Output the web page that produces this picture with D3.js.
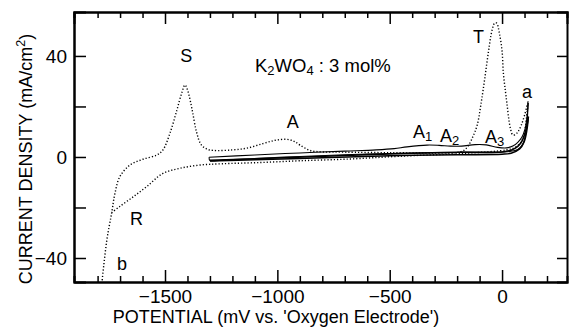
<!DOCTYPE html>
<html>
<head>
<meta charset="utf-8">
<script src="https://cdn.jsdelivr.net/npm/d3@7"></script>
<style>
  body { margin: 0; background: #fff; }
  text { font-family: "Liberation Sans", Arial, sans-serif; fill: #000; }
</style>
</head>
<body>
<div id="chart-container"></div>
<script>
// dotted cycle: anodic sweep from b up through S, A, T to a
const dottedForward = [
  [-1781, -50], [-1759, -33], [-1737, -22], [-1723, -14.5], [-1701, -7.8], [-1656, -3.2],
  [-1598, -0.9], [-1536, 0.8], [-1509, 2.8], [-1478, 9.4], [-1447, 18.6], [-1425, 25.5],
  [-1411, 28.5], [-1398, 26], [-1380, 19], [-1360, 10], [-1340, 5], [-1315, 3.2], [-1287, 2.6],
  [-1200, 2.8], [-1135, 3.5], [-1064, 5.3], [-1010, 6.6], [-960, 7], [-925, 6.2], [-899, 4.7],
  [-855, 2.6], [-800, 2], [-700, 1.9], [-500, 1.7], [-300, 1.6], [-200, 1.8], [-170, 2.6],
  [-150, 4.5], [-130, 8], [-111, 12.5], [-92, 22], [-76, 31.7], [-60, 42], [-45, 50],
  [-33, 53], [-24, 53], [-12, 49], [0, 42], [6, 33], [15, 26], [22, 21], [30, 15],
  [38, 11], [47, 8.8], [58, 8.8], [71, 10], [85, 12.5], [100, 16.5], [116, 22]
];
// dotted cycle: cathodic sweep from a back to R and b
const dottedReturn = [
  [116, 22], [108, 15], [98, 9], [82, 5.5], [55, 3.7], [20, 2.8], [-156, 1.5], [-454, 0.3],
  [-677, -0.8], [-900, -1.5], [-1077, -2.2], [-1250, -2.7], [-1345, -3.2], [-1434, -4.5],
  [-1509, -6.5], [-1581, -11.7], [-1642, -15.8], [-1700, -19.5], [-1737, -22]
];
// solid thin cycle with A1, A2, A3
const solidForward = [
  [-1304, -0.1], [-1100, 0.8], [-900, 1.6], [-700, 2.3], [-560, 2.8], [-480, 3.3], [-423, 4],
  [-334, 4.7], [-280, 4.6], [-230, 4.3], [-180, 4.3], [-120, 4.9], [-70, 4.8], [-20, 3.8],
  [20, 3.6], [50, 4.4], [70, 5.8], [88, 7.8], [102, 11], [110, 15], [116, 21.4]
];
const solidReturn = [
  [116, 21.4], [112, 14.5], [105, 9], [92, 5], [70, 3], [35, 2.2], [0, 2], [-200, 1.8],
  [-500, 1.4], [-700, 0.9], [-900, 0.2], [-1100, -0.6], [-1250, -1.3], [-1300, -1.4], [-1304, -0.1]
];
// solid thick cycle underneath
const thickForward = [
  [-1300, -1.3], [-1000, -0.4], [-700, 0.6], [-400, 1.5], [-200, 1.9], [0, 2], [40, 2.7],
  [70, 4.2], [90, 6.5], [104, 10], [112, 13], [117, 16]
];
const thickReturn = [
  [117, 16], [110, 10.5], [98, 6], [78, 3.2], [40, 1.5], [0, 1.1], [-200, 0.9], [-500, 0.5],
  [-800, -0.3], [-1100, -1.1], [-1300, -1.6]
];

const xMajorTicks = [-1500, -1000, -500, 0];
const yMajorTicks = [-40, 0, 40];
const pointLabels = [
  { text: 'S', sub: '', x: -1432, y: 37.6 },
  { text: 'A', sub: '', x: -958, y: 11.5 },
  { text: 'A', sub: '1', x: -396, y: 7.5 },
  { text: 'A', sub: '2', x: -276, y: 5.9 },
  { text: 'A', sub: '3', x: -76, y: 5.5 },
  { text: 'T', sub: '', x: -129, y: 45 },
  { text: 'a', sub: '', x: 89, y: 23.4 },
  { text: 'R', sub: '', x: -1656, y: -27 },
  { text: 'b', sub: '', x: -1714, y: -44.8 }
];

const width = 569, height = 331;
const margin = { top: 12, right: 2, bottom: 49, left: 74 };
const plotW = width - margin.left - margin.right;
const plotH = height - margin.top - margin.bottom;

const svg = d3.select('#chart-container')
  .append('svg')
  .attr('width', width)
  .attr('height', height);

const g = svg.append('g')
  .attr('transform', `translate(${margin.left}, ${margin.top})`);

const xScale = d3.scaleLinear().domain([-1905, 289]).range([0, plotW]);
const yScale = d3.scaleLinear().domain([-49.5, 57.4]).range([plotH, 0]);

g.append('clipPath').attr('id', 'clip')
  .append('rect').attr('width', plotW).attr('height', plotH);

const line = d3.line()
  .x((d) => xScale(d[0]))
  .y((d) => yScale(d[1]))
  .curve(d3.curveCatmullRom.alpha(0.5));

const curves = g.append('g').attr('clip-path', 'url(#clip)');

[dottedForward, dottedReturn].forEach((data) => {
  curves.append('path')
    .datum(data)
    .attr('d', line)
    .attr('fill', 'none')
    .attr('stroke', '#000')
    .attr('stroke-width', 1.4)
    .attr('stroke-dasharray', '1.2,2');
});

[thickForward, thickReturn].forEach((data) => {
  curves.append('path')
    .datum(data)
    .attr('d', line)
    .attr('fill', 'none')
    .attr('stroke', '#000')
    .attr('stroke-width', 1.6);
});

[solidForward, solidReturn].forEach((data) => {
  curves.append('path')
    .datum(data)
    .attr('d', line)
    .attr('fill', 'none')
    .attr('stroke', '#000')
    .attr('stroke-width', 1.1);
});

// axes, ticks pointing inward on all four sides
const xMinor = d3.range(-1800, 201, 100).filter((v) => !xMajorTicks.includes(v));
const yMinor = [-20, 20];

g.append('g').attr('class', 'axis')
  .attr('transform', `translate(0, ${plotH})`)
  .call(d3.axisBottom(xScale).tickValues(xMinor).tickSize(-6).tickFormat(''));
g.append('g').attr('class', 'axis')
  .attr('transform', `translate(0, ${plotH})`)
  .call(d3.axisBottom(xScale).tickValues(xMajorTicks).tickSizeInner(-12).tickSizeOuter(0)
    .tickPadding(8).tickFormat((d) => d === 0 ? '0' : '\u2212' + Math.abs(d)));

g.append('g').attr('class', 'axis')
  .call(d3.axisTop(xScale).tickValues(xMinor).tickSize(-6).tickFormat(''));
g.append('g').attr('class', 'axis')
  .call(d3.axisTop(xScale).tickValues(xMajorTicks).tickSize(-12).tickFormat(''));

g.append('g').attr('class', 'axis')
  .call(d3.axisLeft(yScale).tickValues(yMinor).tickSize(-12).tickFormat(''));
g.append('g').attr('class', 'axis')
  .call(d3.axisLeft(yScale).tickValues(yMajorTicks).tickSizeInner(-12).tickSizeOuter(0)
    .tickPadding(7).tickFormat((d) => d < 0 ? '\u2212' + Math.abs(d) : d));

g.append('g').attr('class', 'axis')
  .attr('transform', `translate(${plotW}, 0)`)
  .call(d3.axisRight(yScale).tickValues(yMinor.concat(yMajorTicks)).tickSize(-10).tickFormat(''));

d3.selectAll('.axis path').attr('stroke', '#000').attr('stroke-width', 2);
d3.selectAll('.axis line').attr('stroke', '#000').attr('stroke-width', 1.5);
d3.selectAll('.axis text').attr('fill', '#000').attr('font-size', 19)
  .attr('font-family', '"Liberation Sans", Arial, sans-serif');

// point labels
pointLabels.forEach((d) => {
  const t = g.append('text')
    .attr('x', xScale(d.x))
    .attr('y', yScale(d.y))
    .attr('font-size', 18)
    .text(d.text);
  if (d.sub) {
    t.append('tspan').attr('font-size', 13).attr('dy', 3).text(d.sub);
  }
});

const title = g.append('text')
  .attr('x', 181)
  .attr('y', 60)
  .attr('font-size', 18.5);
title.append('tspan').text('K');
title.append('tspan').attr('font-size', 13).attr('dy', 3).text('2');
title.append('tspan').attr('dy', -3).text('WO');
title.append('tspan').attr('font-size', 13).attr('dy', 3).text('4');
title.append('tspan').attr('dy', -3).text(' : 3 mol%');

svg.append('text')
  .attr('x', 276)
  .attr('y', 323)
  .attr('text-anchor', 'middle')
  .attr('font-size', 18)
  .text("POTENTIAL (mV vs. 'Oxygen Electrode')");

const ylab = svg.append('text')
  .attr('transform', 'translate(32, 159) rotate(-90)')
  .attr('text-anchor', 'middle')
  .attr('font-size', 18);
ylab.append('tspan').text('CURRENT DENSITY (mA/cm');
ylab.append('tspan').attr('font-size', 12.5).attr('dy', -7).text('2');
ylab.append('tspan').attr('dy', 7).text(')');
</script>
</body>
</html>
